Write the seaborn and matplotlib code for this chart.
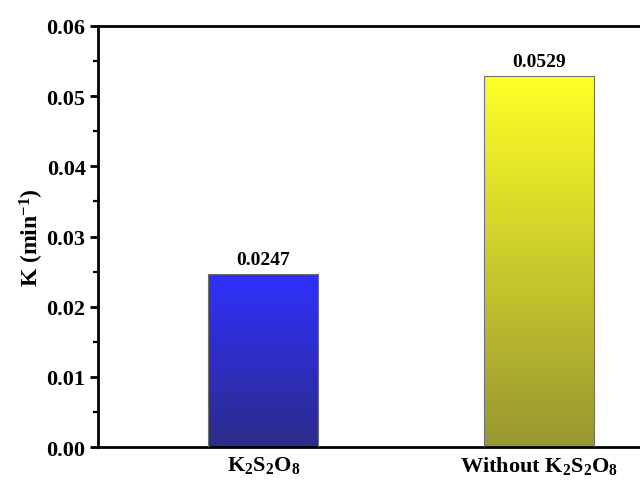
import numpy as np
import pandas as pd
import matplotlib
matplotlib.use("Agg")
import matplotlib.pyplot as plt
import seaborn as sns
from matplotlib.colors import LinearSegmentedColormap
from matplotlib.ticker import MultipleLocator

categories = ["K$_2$S$_2$O$_8$", "Without K$_2$S$_2$O$_8$"]
values = [0.0247, 0.0529]
value_labels = ["0.0247", "0.0529"]
top_colors = ["#3030ff", "#ffff28"]
bottom_colors = ["#2c2c88", "#979730"]

sns.set_style("ticks")
plt.rcParams["font.family"] = ["Liberation Serif", "DejaVu Serif"]
plt.rcParams["font.weight"] = "bold"
plt.rcParams["mathtext.fontset"] = "custom"
plt.rcParams["mathtext.rm"] = "Liberation Serif:bold"
plt.rcParams["mathtext.it"] = "Liberation Serif:bold"
plt.rcParams["mathtext.bf"] = "Liberation Serif:bold"
plt.rcParams["mathtext.default"] = "rm"
plt.rcParams["axes.edgecolor"] = "black"
plt.rcParams["xtick.color"] = "black"
plt.rcParams["ytick.color"] = "black"
plt.rcParams["text.color"] = "black"
plt.rcParams["axes.labelcolor"] = "black"

df = pd.DataFrame({"cond": categories, "k": values})

fig = plt.figure(figsize=(6.4, 4.81), dpi=100)
ax = fig.add_axes([98 / 640, 1 - 448 / 481, 606 / 640, (448 - 27) / 481])

sns.barplot(data=df, x="cond", y="k", ax=ax, width=0.4, color="white",
            edgecolor="#707070", linewidth=0.8, zorder=3)

for patch, ct, cb in zip(ax.patches, top_colors, bottom_colors):
    x0, y0 = patch.get_x(), patch.get_y()
    w, h = patch.get_width(), patch.get_height()
    cmap = LinearSegmentedColormap.from_list("g", [cb, ct])
    grad = np.linspace(0, 1, 256).reshape(-1, 1)
    im = ax.imshow(grad, cmap=cmap, origin="lower", aspect="auto",
                   extent=[x0, x0 + w, y0, y0 + h], zorder=2)
    im.set_clip_path(patch)
    patch.set_facecolor("none")

ax.set_xlim(-0.6, 1.6)
ax.set_ylim(0, 0.06)
ax.yaxis.set_major_locator(MultipleLocator(0.01))
ax.yaxis.set_minor_locator(MultipleLocator(0.005))
ax.yaxis.set_major_formatter(plt.FormatStrFormatter("%.2f"))

for i, (v, lab) in enumerate(zip(values, value_labels)):
    ax.annotate(lab, (i, v), xytext=(0, 4), textcoords="offset points",
                ha="center", va="bottom", fontsize=14, fontweight="bold")

ax.set_xlabel("")
ax.set_ylabel("K (min$^{-1}$)", fontsize=17, fontweight="bold", labelpad=0)

for s in ax.spines.values():
    s.set_linewidth(2)
    s.set_visible(True)
    s.set_color("black")

ax.tick_params(axis="y", which="major", length=6, width=2, direction="out",
               labelsize=16, pad=3)
ax.tick_params(axis="y", which="minor", length=3.5, width=1.6, direction="out")
ax.tick_params(axis="x", which="both", length=0, labelsize=16, pad=5)
for lab in ax.get_xticklabels() + ax.get_yticklabels():
    lab.set_fontweight("bold")

fig.savefig("out.png", dpi=100)
